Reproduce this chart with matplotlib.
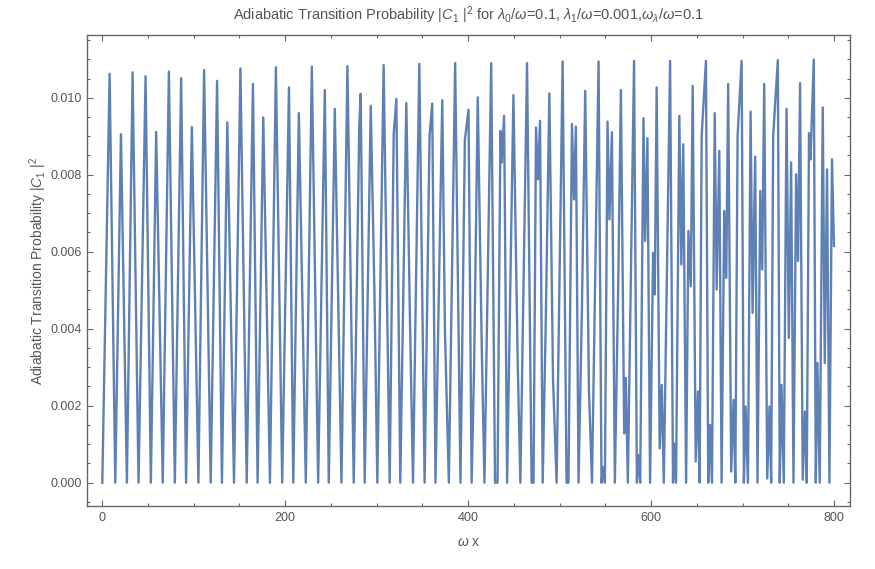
import matplotlib
matplotlib.use("Agg")
import matplotlib.pyplot as plt
from matplotlib.ticker import MultipleLocator, FormatStrFormatter

# turning points
omega_x = [
    0, 8.0, 14.2, 20.4, 26.9, 33.1, 39.6, 47.3, 53.1, 58.9, 66.1, 72.8, 79.3, 86.2, 91.6, 97.9,
    105.1, 111.3, 118.5, 125.5, 130.8, 136.7, 144.0, 151.0, 157.9, 164.7, 169.8, 176.0, 183.3,
    189.8, 196.7, 204.1, 208.8, 214.9, 222.5, 229.1, 236.0, 243.3, 247.6, 254.2, 261.5, 268.0,
    274.9, 281.0, 282.5, 286.9, 293.5, 297.5, 300.7, 307.6, 314.2, 318.6, 321.5, 325.8, 332.4,
    336.3, 339.7, 346.6, 352.4, 357.8, 360.7, 364.3, 371.7, 374.6, 378.9, 385.8, 391.6, 396.4,
    400.4, 403.8, 406.5, 410.5, 414.9, 417.8, 425.2, 429.4, 432.1, 435.3, 436.7, 439.3, 442.6,
    449.5, 454.2, 457.1, 464.4, 469.4, 471.5, 474.2, 476.4, 478.6, 481.5, 484.8, 488.8, 492.8,
    496.7, 503.3, 507.6, 509.7, 513.5, 515.7, 517.8, 520.7, 524.4, 528.0, 532.1, 535.4, 542.6,
    545.8, 547.6, 549.5, 552.4, 554.5, 557.2, 560.4, 564.0, 567.0, 570.6, 572.4, 574.6, 581.4,
    584.5, 586.3, 588.1, 591.7, 593.5, 596.0, 598.9, 602.2, 604.0, 606.1, 609.4, 611.7, 613.9,
    620.8, 624.0, 625.1, 627.3, 630.9, 633.1, 635.2, 638.3, 640.8, 643.4, 645.5, 648.8, 651.3,
    653.1, 655.3, 660.0, 662.5, 664.4, 666.6, 669.6, 671.7, 674.6, 677.1, 680.0, 682.2, 684.3,
    687.6, 690.2, 692.1, 694.6, 699.0, 701.5, 703.3, 705.9, 708.8, 711.0, 713.8, 716.4, 719.4,
    721.5, 723.7, 727.0, 729.5, 731.3, 733.5, 738.6, 740.7, 742.6, 745.1, 748.1, 750.6, 753.1,
    755.7, 758.6, 760.7, 762.9, 765.8, 768.3, 770.2, 772.7, 774.3, 777.9, 780.1, 781.9, 784.4,
    787.7, 789.9, 792.4, 795.0, 797.8, 800.0,
]
prob = [
    0, 0.01062, 0, 0.00905, 0, 0.01066, 0, 0.01056, 0, 0.00911, 0, 0.01068, 0, 0.01051, 0, 0.00924,
    0, 0.01072, 0, 0.01044, 0, 0.00936, 0, 0.01076, 0, 0.01036, 0, 0.00949, 0,
    0.01079, 0, 0.01027, 0, 0.00960, 0, 0.01081, 0, 0.01020, 0, 0.00971, 0, 0.01082,
    0, 0.0093, 0.01010, 0, 0.00979, 0.0050, 0, 0.01085, 0, 0.00905, 0.00997, 0, 0.00986,
    0.00437, 0, 0.01088, 0, 0.0090, 0.00985, 0, 0.00994, 0.00398, 0, 0.0109, 0, 0.0089,
    0.00969, 0, 0.0030, 0.01001, 0.00347, 0, 0.0109, 0, 0, 0.00914, 0.00832, 0.00953, 0,
    0.01007, 0.00311, 0, 0.0109, 0, 0, 0.00923, 0.00788, 0.0094, 0, 0.0041, 0.01011, 0.0027,
    0, 0.01094, 0, 0, 0.00932, 0.00736, 0.00925, 0, 0.00453, 0.01018, 0.0024, 0, 0.01094,
    0, 0.0004, 0, 0.00938, 0.00684, 0.0091, 0, 0.00502, 0.0102, 0.00128, 0.00272, 0, 0.01096,
    0, 0.00072, 0, 0.00947, 0.00628, 0.00895, 0, 0.00597, 0.00489, 0.01027, 0.00089, 0.00254, 0,
    0.01096, 0, 0.00102, 0, 0.00953, 0.00567, 0.00879, 0, 0.00654, 0.0051, 0.01031, 0.00055, 0.00237,
    0, 0.0090, 0.01096, 0, 0.0015, 0, 0.0096, 0.00502, 0.00862, 0, 0.00706, 0.00532, 0.01036,
    0.00029, 0.00215, 0, 0.00902, 0.01096, 0, 0.00198, 0, 0.00964, 0.00441, 0.00847, 0, 0.00758,
    0.00554, 0.01036, 0.00011, 0.00198, 0, 0.0090, 0.01098, 0, 0.00254, 0, 0.00971, 0.00376, 0.00832,
    0, 0.00801, 0.00576, 0.01038, 0.00008, 0.00185, 0, 0.00908, 0.0084, 0.01099, 0, 0.00311, 0,
    0.00975, 0.00311, 0.00814, 0, 0.0084, 0.00615,
]

plt.rcParams['font.family'] = ['Liberation Sans', 'DejaVu Sans']
plt.rcParams['mathtext.fontset'] = 'custom'
plt.rcParams['mathtext.rm'] = 'Liberation Sans'
plt.rcParams['mathtext.it'] = 'Liberation Sans:italic'

text_col = '#555555'
frame_col = '#666666'

fig = plt.figure(figsize=(8.75, 5.69), dpi=100)
ax = fig.add_axes([87.3 / 875, 1 - 506 / 569, (850 - 87.3) / 875, (506 - 35) / 569])

ax.plot(omega_x, prob, color='#5E81B5', lw=1.7, solid_joinstyle='round')

ax.set_xlim(-16.4, 817.5)
ax.set_ylim(-0.000605, 0.01163)
ax.xaxis.set_major_locator(MultipleLocator(200))
ax.xaxis.set_minor_locator(MultipleLocator(50))
ax.yaxis.set_major_locator(MultipleLocator(0.002))
ax.yaxis.set_minor_locator(MultipleLocator(0.0005))
ax.yaxis.set_major_formatter(FormatStrFormatter('%.3f'))

ax.tick_params(which='both', direction='in', top=True, right=True,
               color=frame_col, labelcolor=text_col, labelsize=9, width=0.8)
ax.tick_params(which='major', length=4.5, pad=4)
ax.tick_params(which='minor', length=2.5)
for s in ax.spines.values():
    s.set_color(frame_col)
    s.set_linewidth(1.0)

ax.set_title(r"Adiabatic Transition Probability $|C_1\ |^2$ for $\lambda_0/\omega$=0.1, "
             r"$\lambda_1/\omega$=0.001,$\omega_\lambda/\omega$=0.1",
             fontsize=10.5, color=text_col, pad=11)
ax.set_xlabel(r"$\omega$ x", fontsize=10, color=text_col, labelpad=8)
ax.set_ylabel(r"Adiabatic Transition Probability $|C_1\ |^2$", fontsize=10, color=text_col, labelpad=1)

fig.savefig('out.png', dpi=100)
